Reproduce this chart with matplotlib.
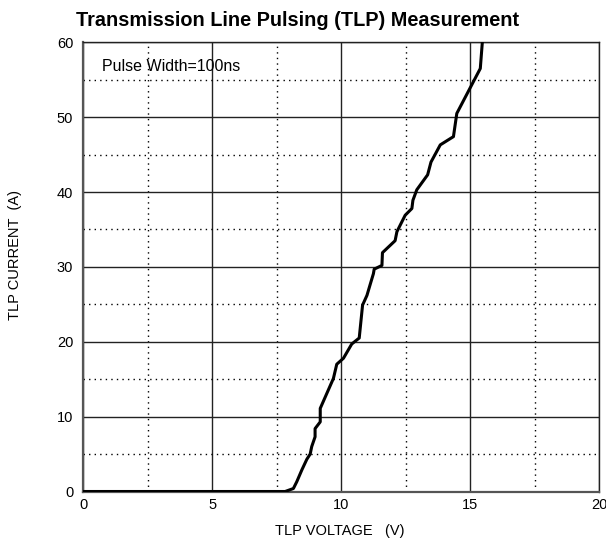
import numpy as np
import matplotlib
matplotlib.use("Agg")
import matplotlib.pyplot as plt
from matplotlib.ticker import MultipleLocator

plt.rcParams['font.family'] = ['Liberation Sans', 'DejaVu Sans']

# TLP curve (V, A)
voltage = [0.0, 7.83, 8.15, 8.28, 8.48, 8.67, 8.80, 8.86, 8.99, 8.99, 9.19, 9.19,
           9.70, 9.83, 10.09, 10.41, 10.70, 10.83, 11.00, 11.12, 11.25, 11.28,
           11.58, 11.60, 12.09, 12.16, 12.48, 12.74, 12.78, 12.93, 13.35, 13.48,
           13.84, 14.35, 14.48, 15.39, 15.48]
current = [0.0, 0.0, 0.4, 1.3, 2.9, 4.3, 5.0, 6.0, 7.3, 8.4, 9.3, 11.1,
           15.1, 17.0, 17.8, 19.7, 20.5, 24.9, 26.2, 27.6, 29.1, 29.7,
           30.2, 31.9, 33.5, 34.7, 36.9, 37.8, 38.9, 40.3, 42.3, 44.0,
           46.3, 47.4, 50.5, 56.5, 60.5]

x_ticks = [0, 5, 10, 15, 20]
y_ticks = [0, 10, 20, 30, 40, 50, 60]

fig = plt.figure(figsize=(6.06, 5.43), dpi=100)
ax = fig.add_axes([83 / 606, 1 - 491.5 / 543, (599.3 - 83) / 606, (491.5 - 42.3) / 543])

ax.set_xlim(0, 20)
ax.set_ylim(0, 60)
ax.set_xticks(x_ticks)
ax.set_yticks(y_ticks)
ax.xaxis.set_minor_locator(MultipleLocator(2.5))
ax.yaxis.set_minor_locator(MultipleLocator(5))
ax.tick_params(which='both', length=0, labelsize=10.5)
ax.tick_params(axis='x', pad=5)
ax.tick_params(axis='y', pad=7)

ax.grid(which='major', color='#222222', linewidth=1.0, linestyle='-')
ax.grid(which='minor', color='black', linewidth=1.0, linestyle=(0, (1, 3)))
ax.set_axisbelow(True)

for side in ['left', 'bottom']:
    ax.spines[side].set_color('#555555')
    ax.spines[side].set_linewidth(1.6)
for side in ['right', 'top']:
    ax.spines[side].set_color('#222222')
    ax.spines[side].set_linewidth(1.0)

ax.plot(voltage, current, color='black', linewidth=2.2, clip_on=True, zorder=3)

ax.text(0.72, 56.8, "Pulse Width=100ns", fontsize=11.5, va='center', ha='left')

fig.text(298 / 606, 1 - 20.7 / 543, "Transmission Line Pulsing (TLP) Measurement",
         fontsize=14.3, fontweight='bold', ha='center', va='center')
fig.text(340 / 606, 1 - 531 / 543, "TLP VOLTAGE   (V)", fontsize=10.5,
         ha='center', va='center')
fig.text(15 / 606, 1 - 255 / 543, "TLP CURRENT  (A)", fontsize=10.5,
         rotation=90, ha='center', va='center')

fig.savefig("out.png", dpi=100)
